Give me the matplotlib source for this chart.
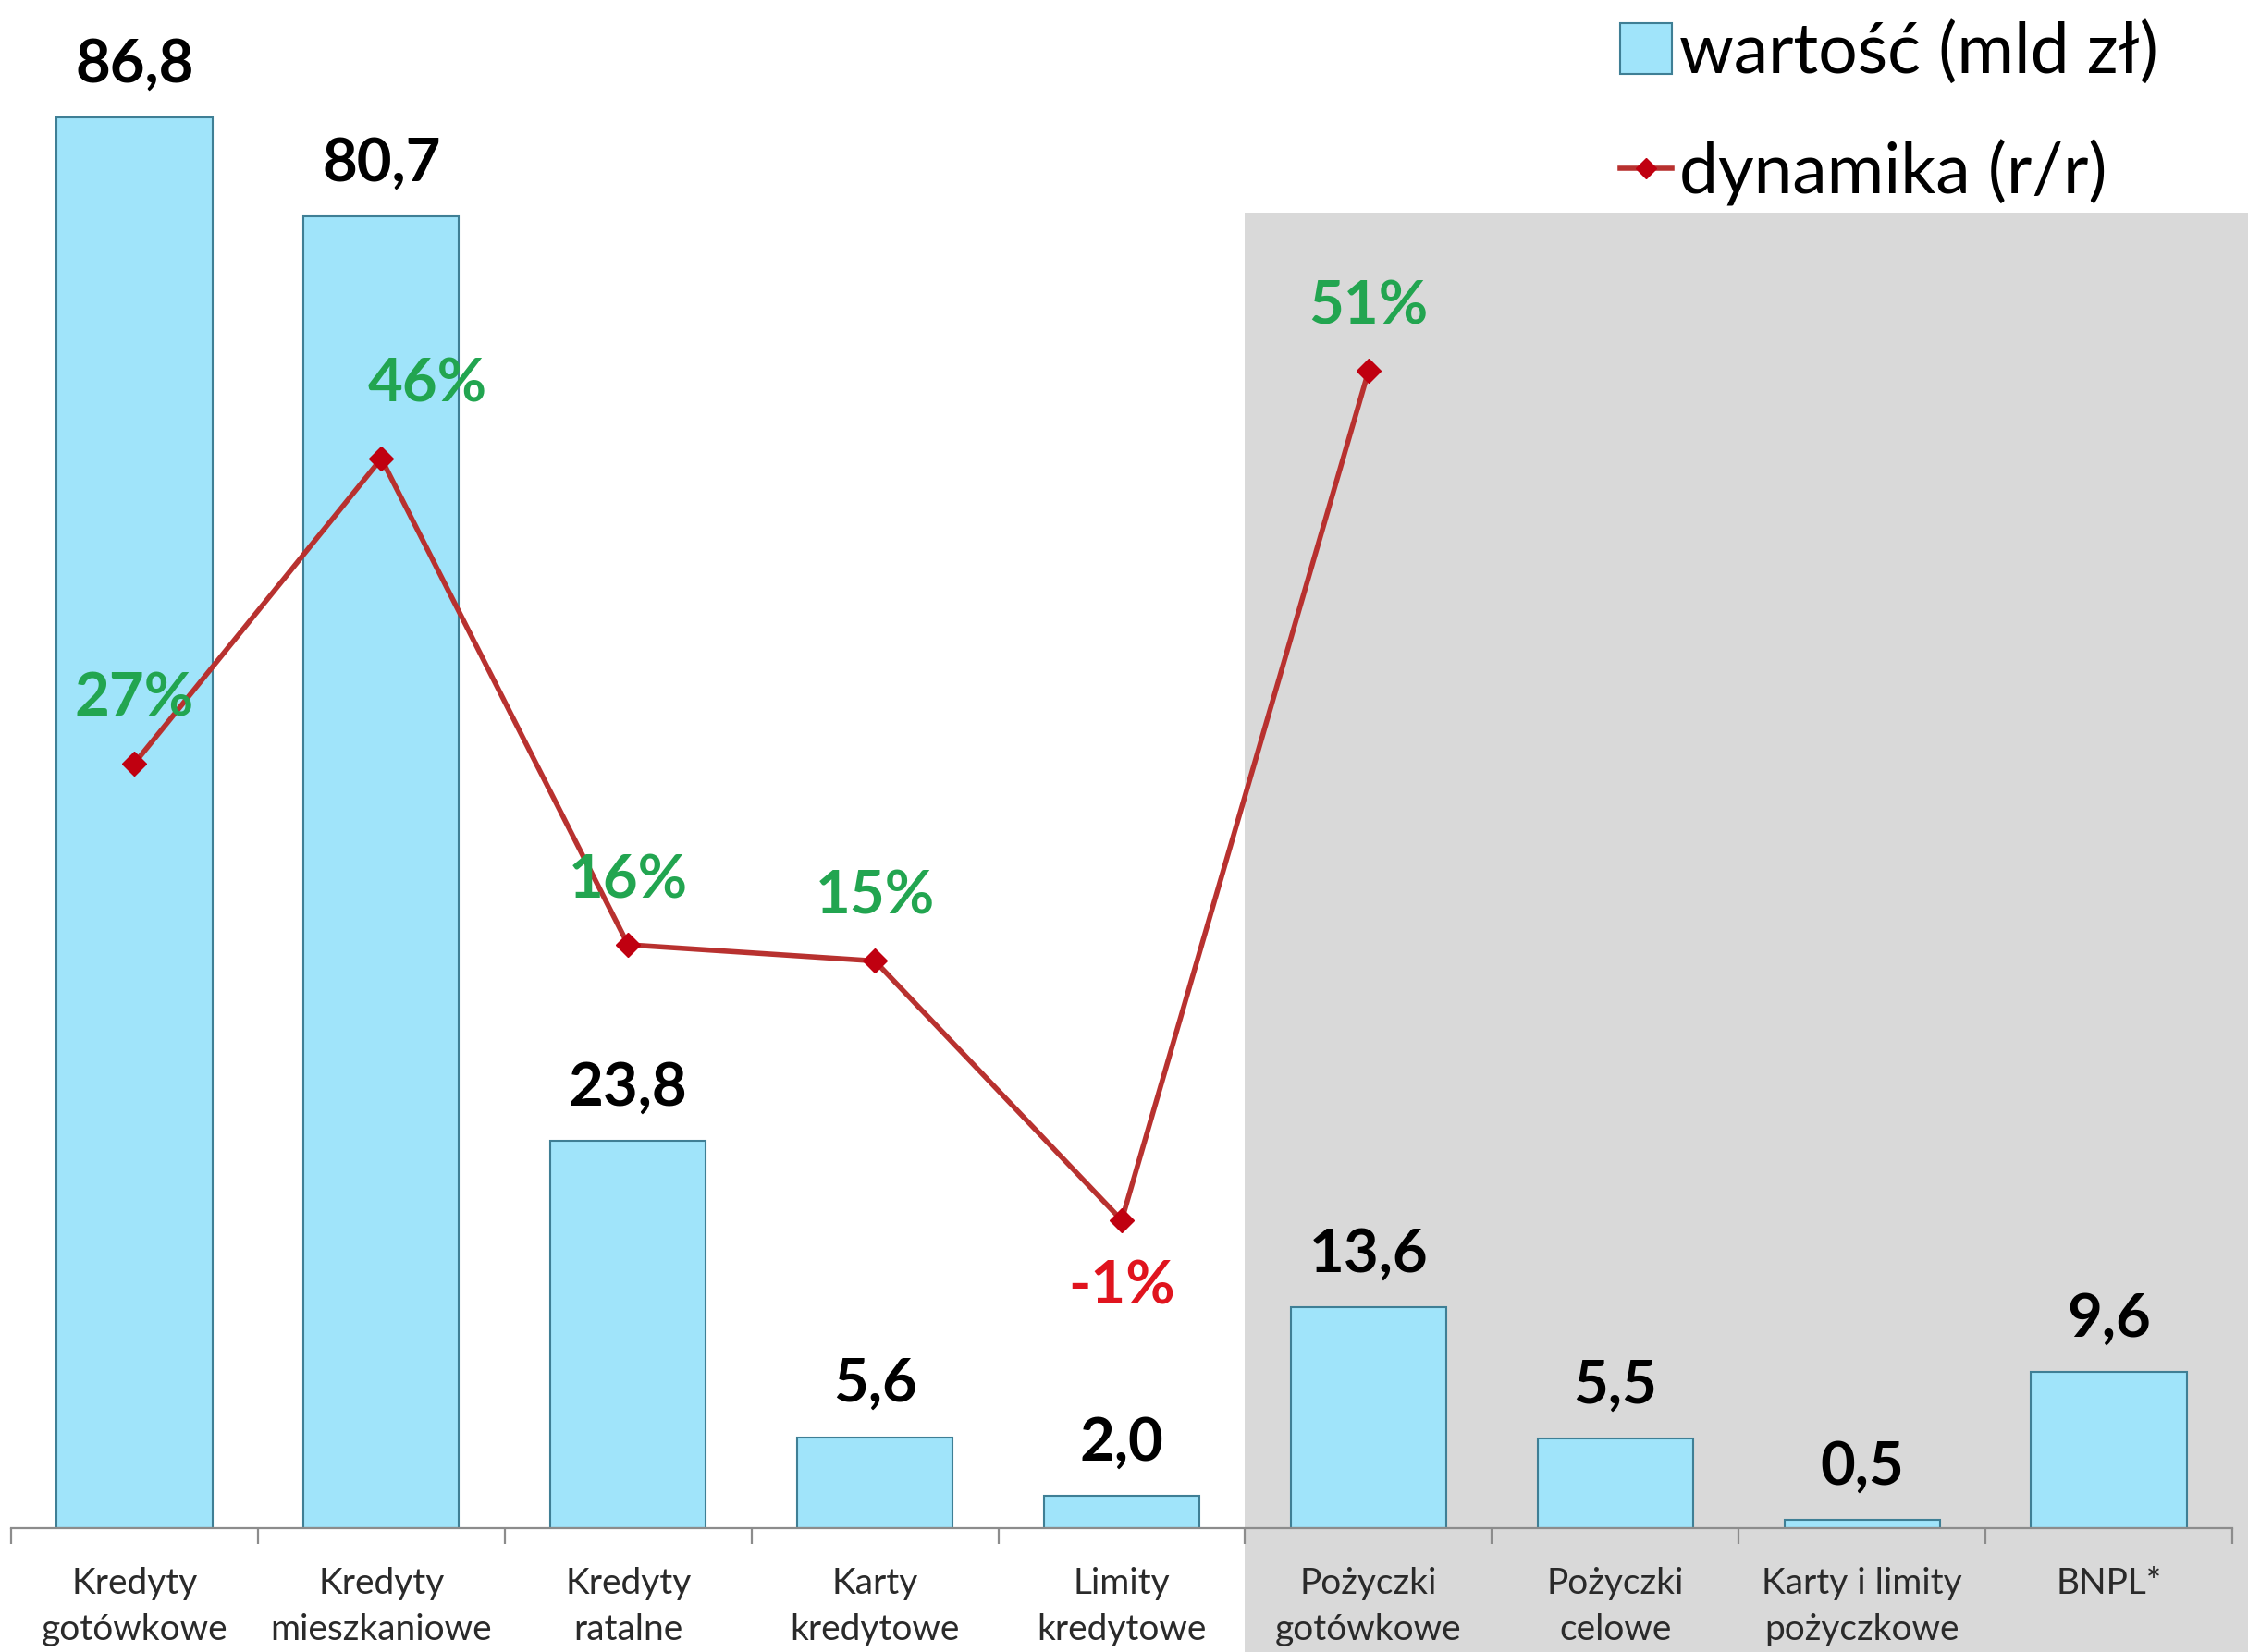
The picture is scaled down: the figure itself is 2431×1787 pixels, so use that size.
import matplotlib
matplotlib.use("Agg")
import matplotlib.pyplot as plt
import matplotlib.transforms as mtransforms
from matplotlib.patches import Rectangle, Patch
from matplotlib.lines import Line2D
import numpy as np

plt.rcParams['font.family'] = ['Lato', 'DejaVu Sans']

# dane
categories = ["Kredyty\ngotówkowe", "Kredyty\nmieszkaniowe", "Kredyty\nratalne",
              "Karty\nkredytowe", "Limity\nkredytowe", "Pożyczki\ngotówkowe",
              "Pożyczki\ncelowe", "Karty i limity\npożyczkowe", "BNPL*"]
values = [86.8, 80.7, 23.8, 5.6, 2.0, 13.6, 5.5, 0.5, 9.6]
value_labels = ["86,8", "80,7", "23,8", "5,6", "2,0", "13,6", "5,5", "0,5", "9,6"]
dyn = [27.2, 46, 16, 15, -1, 51.4]
dyn_labels = ["27%", "46%", "16%", "15%", "-1%", "51%"]

bar_fill = "#A0E4FA"
bar_edge = "#3F7F95"
line_col = "#B8312F"
green = "#22A550"
red = "#E0141E"

fig = plt.figure(figsize=(24.31, 17.87), dpi=100)
ax = fig.add_axes([12 / 2431, 1 - 1653 / 1787, 2402 / 2431, 1653 / 1787])
ax2 = ax.twinx()

x = np.arange(len(categories))

# szare tło (pożyczki)
trans = mtransforms.blended_transform_factory(ax.transData, fig.transFigure)
ax.add_patch(Rectangle((4.5, 0), 6, 1 - 230 / 1787, transform=trans,
                       facecolor="#D9D9D9", edgecolor="none", clip_on=False, zorder=0.5))

ax.bar(x, values, width=0.63, color=bar_fill, edgecolor=bar_edge, linewidth=1.5, zorder=2)
for xi, v, lab in zip(x, values, value_labels):
    ax.annotate(lab, (xi, v), xytext=(0, 41), textcoords="offset points",
                ha="center", va="center", fontsize=47, fontweight="bold", color="black")

ax.set_xlim(-0.5, len(categories) - 0.5)
ax.set_ylim(0, 94)
ax2.set_ylim(-20, 74.3)

xd = x[:len(dyn)]
ax2.plot(xd, dyn, color=line_col, linewidth=4, marker="D", markersize=13,
         markerfacecolor="#C00010", markeredgecolor="#C00010", zorder=3)
for i, (xi, d, lab) in enumerate(zip(xd, dyn, dyn_labels)):
    col = red if d < 0 else green
    dx, dy = 0, 50
    if d < 0:
        dy = -52
    if i == 1:
        dx, dy = 36, 58
    ax2.annotate(lab, (xi, d), xytext=(dx, dy), textcoords="offset points",
                 ha="center", va="center", fontsize=47, fontweight="bold", color=col, zorder=4)

# osie
for s in ["top", "left", "right"]:
    ax.spines[s].set_visible(False)
    ax2.spines[s].set_visible(False)
ax2.spines["bottom"].set_visible(False)
ax.spines["bottom"].set_color("#8C8C8C")
ax.spines["bottom"].set_linewidth(1.6)
ax.set_yticks([])
ax2.set_yticks([])
ax.set_xticks(x)
ax.set_xticklabels(categories, fontsize=28, color="#2A2A2A", linespacing=1.5)
ax.set_xticks(np.arange(-0.5, len(categories)), minor=True)
ax.tick_params(axis="x", which="major", length=0, pad=30)
ax.tick_params(axis="x", which="minor", length=12, width=1.6, color="#8C8C8C", direction="out")
ax.set_facecolor("none")

handles = [Patch(facecolor=bar_fill, edgecolor=bar_edge, linewidth=1.5),
           Line2D([], [], color=line_col, linewidth=4, marker="D", markersize=11,
                  markerfacecolor="#C00010", markeredgecolor="#C00010")]
fig.legend(handles, ["wartość (mld zł)", "dynamika (r/r)"], loc="upper left",
           bbox_to_anchor=(1752 / 2431, 1 - 22 / 1787), frameon=False, fontsize=54,
           handlelength=0.75, handleheight=0.75, handletextpad=0.1, labelspacing=0.78,
           borderpad=0, borderaxespad=0)

fig.savefig("out.png", dpi=100)
